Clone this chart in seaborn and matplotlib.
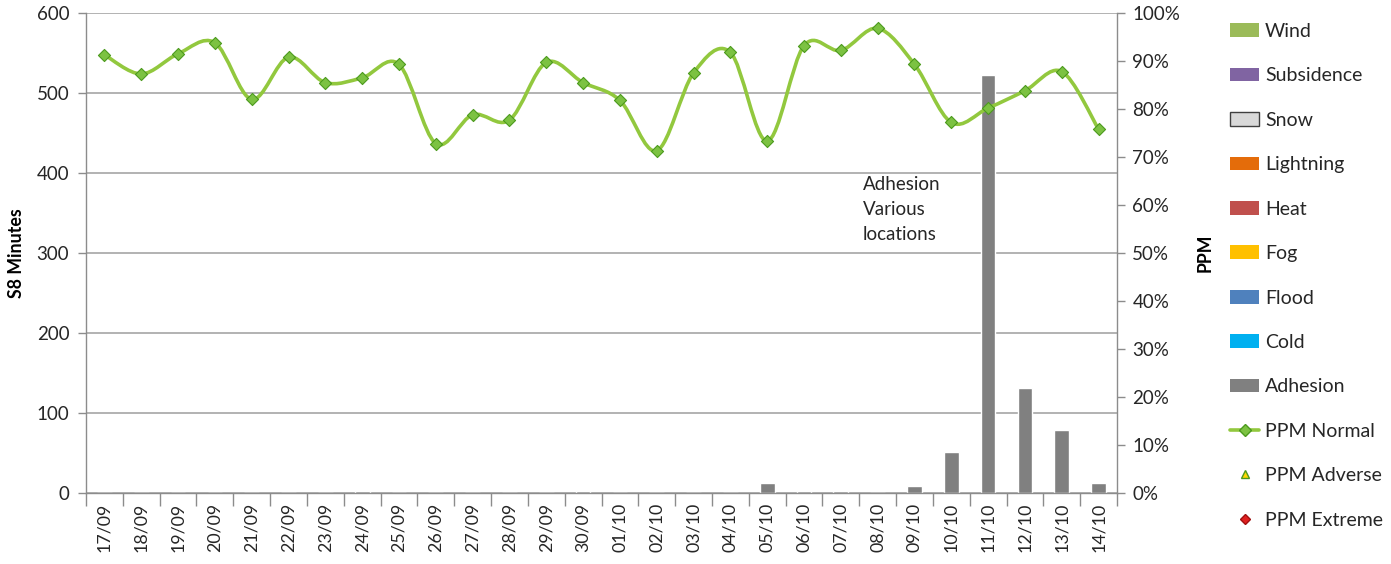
import numpy as np
import pandas as pd
import matplotlib
matplotlib.use("Agg")
import matplotlib.pyplot as plt
import seaborn as sns
from matplotlib.path import Path
from matplotlib.patches import PathPatch, Patch
from matplotlib.lines import Line2D

# ---------------- data ----------------
dates = ["17/09", "18/09", "19/09", "20/09", "21/09", "22/09", "23/09", "24/09",
         "25/09", "26/09", "27/09", "28/09", "29/09", "30/09", "01/10", "02/10",
         "03/10", "04/10", "05/10", "06/10", "07/10", "08/10", "09/10", "10/10",
         "11/10", "12/10", "13/10", "14/10"]
adhesion_minutes = [0, 0, 0, 0, 0, 0, 0, 2, 0, 0, 0, 0, 0, 3, 0, 0,
                    0, 0, 12, 2, 3, 0, 9, 51, 523, 131, 79, 12]
ppm_normal = [91.3, 87.3, 91.5, 93.8, 82.0, 90.8, 85.5, 86.5, 89.3, 72.8, 78.8, 77.7,
              89.7, 85.5, 81.8, 71.3, 87.5, 91.8, 73.3, 93.2, 92.2, 96.8, 89.3, 77.2,
              80.2, 83.8, 87.8, 75.8]
left_ticks = [0, 100, 200, 300, 400, 500, 600]
right_ticks = [0, 10, 20, 30, 40, 50, 60, 70, 80, 90, 100]
legend_bars = ["Wind", "Subsidence", "Snow", "Lightning", "Heat", "Fog", "Flood", "Cold", "Adhesion"]
legend_bar_colors = ["#9BBB59", "#8064A2", "#D9D9D9", "#E46C0A", "#C0504D", "#FFC000",
                     "#4F81BD", "#00B0F0", "#808080"]

# ---------------- style ----------------
sns.set_theme(style="white")
plt.rcParams["font.family"] = ["Lato", "DejaVu Sans"]
grey = "#8c8c8c"
txt = "#262626"
line_green = "#92C83E"

fig = plt.figure(figsize=(13.91, 5.64), dpi=100)
ax = fig.add_axes([86 / 1391, 1 - 493 / 564, (1117 - 86) / 1391, (493 - 13) / 564])

df = pd.DataFrame({"date": dates, "minutes": adhesion_minutes})
sns.barplot(data=df, x="date", y="minutes", color="#808080", saturation=1,
            width=0.4, ax=ax, zorder=2)
ax.set_xlim(-0.5, len(dates) - 0.5)
ax.set_ylim(0, 600)
ax.set_yticks(left_ticks)
ax.set_yticklabels([str(v) for v in left_ticks], fontsize=13.5, color=txt)
ax.set_axisbelow(True)
ax.grid(axis="y", color="#a6a6a6", lw=1.2)
ax.grid(axis="x", visible=False)
ax.set_xticks(range(len(dates)))
ax.set_xticklabels(dates, rotation=90, fontsize=12.8, color=txt)
ax.set_xticks(np.arange(-0.5, len(dates), 1), minor=True)
ax.tick_params(axis="x", which="major", length=0, pad=7)
ax.tick_params(axis="x", which="minor", bottom=True, length=9, color=grey, width=1)
ax.tick_params(axis="y", left=True, length=6, color=grey, width=1, pad=6)
for s in ["top", "right"]:
    ax.spines[s].set_visible(False)
for s in ["left", "bottom"]:
    ax.spines[s].set_color(grey)
    ax.spines[s].set_linewidth(1)
ax.set_xlabel("")
ax.set_ylabel("S8 Minutes", fontsize=12.8, fontweight="bold", color="black", labelpad=8)

# ---------------- right axis: PPM ----------------
ax2 = ax.twinx()
ax2.set_ylim(0, 100)
ax2.set_yticks(right_ticks)
ax2.set_yticklabels([f"{v}%" for v in right_ticks], fontsize=13.5, color=txt)
ax2.tick_params(axis="y", right=True, length=6, color=grey, width=1, pad=5)
for s in ["top", "left", "bottom"]:
    ax2.spines[s].set_visible(False)
ax2.spines["right"].set_color(grey)
ax2.spines["right"].set_linewidth(1)
ax2.set_ylabel("PPM", fontsize=12.8, fontweight="bold", color="black", labelpad=12)
ax2.grid(False)

# smoothed line (Catmull-Rom style bezier through the data points)
xs = np.arange(len(ppm_normal), dtype=float)
ys = np.array(ppm_normal, dtype=float)
pts = np.column_stack([xs, ys])
verts = [tuple(pts[0])]
codes = [Path.MOVETO]
n = len(pts)
for i in range(n - 1):
    p0 = pts[i - 1] if i > 0 else pts[i]
    p1 = pts[i]
    p2 = pts[i + 1]
    p3 = pts[i + 2] if i + 2 < n else pts[i + 1]
    c1 = p1 + (p2 - p0) / 6.0
    c2 = p2 - (p3 - p1) / 6.0
    verts += [tuple(c1), tuple(c2), tuple(p2)]
    codes += [Path.CURVE4] * 3
ax2.add_patch(PathPatch(Path(verts, codes), fill=False, edgecolor=line_green,
                        lw=2.6, zorder=3, capstyle="round", joinstyle="round"))
pdf = pd.DataFrame({"x": xs, "ppm": ys})
sns.scatterplot(data=pdf, x="x", y="ppm", marker="D", s=38, color="#7CC242",
                edgecolor="#4C9A1E", linewidth=0.8, ax=ax2, zorder=4, legend=False)
ax2.set_xlabel("")
ax2.set_xlim(-0.5, len(dates) - 0.5)

# annotation
ax.text(20.6, 396, "Adhesion\nVarious\nlocations", fontsize=13.5, color=txt,
        va="top", ha="left", linespacing=1.55)

# ---------------- legend ----------------
handles = []
for lab, col in zip(legend_bars, legend_bar_colors):
    ec = "#404040" if lab == "Snow" else col
    handles.append(Patch(facecolor=col, edgecolor=ec, lw=1 if lab == "Snow" else 0, label=lab))
handles.append(Line2D([0], [0], color=line_green, lw=2.6, marker="D", markersize=6,
                      markerfacecolor="#7CC242", markeredgecolor="#4C9A1E", label="PPM Normal"))
handles.append(Line2D([0], [0], color="none", marker="^", markersize=6,
                      markerfacecolor="#FFD700", markeredgecolor="#4C9A1E", label="PPM Adverse"))
handles.append(Line2D([0], [0], color="none", marker="D", markersize=5,
                      markerfacecolor="#E02020", markeredgecolor="#A01010", label="PPM Extreme"))
fig.legend(handles=handles, loc="upper left", bbox_to_anchor=(1230 / 1391, 1 - 23 / 564),
           frameon=False, fontsize=14, labelspacing=1.41, handlelength=1.5,
           handleheight=0.7, handletextpad=0.3, borderaxespad=0, borderpad=0,
           labelcolor=txt)

fig.savefig("out.png", dpi=100)
